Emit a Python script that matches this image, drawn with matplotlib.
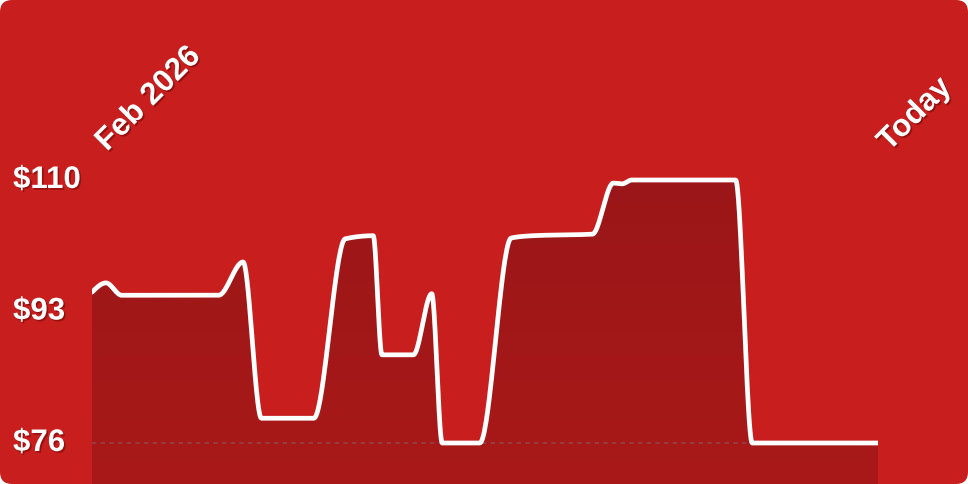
import numpy as np
import matplotlib
matplotlib.use("Agg")
import matplotlib.pyplot as plt
from matplotlib.patches import FancyBboxPatch, Polygon
import matplotlib.patheffects as pe
from matplotlib.transforms import blended_transform_factory, offset_copy

# price history, x in days since start of Feb 2026
days = [0, 1.6, 3.4, 14.5, 17.3, 19.4, 25.4, 29.0, 32.2, 33.2, 36.8, 38.9,
        40.1, 44.4, 48.0, 50.5, 57.3, 59.7, 60.7, 61.8, 73.7, 75.6, 90]
prices = [95.5, 96.7, 95.1, 95.1, 99.4, 79.2, 79.2, 102.4, 102.8, 87.4, 87.4, 95.3,
          76, 76, 102.5, 102.8, 103.0, 109.6, 109.5, 110, 110, 76, 76]
x_labels = ["Feb 2026", "Today"]
y_ticks = [110, 93, 76]

W, H = 968, 484
CARD = "#c81e1e"
FILL_TOP = "#9b1618"
FILL_BOT = "#a91919"


def monotone(x, y, n=40):
    # monotone cubic like d3.curveMonotoneX
    x = np.asarray(x, float)
    y = np.asarray(y, float)
    h = np.diff(x)
    s = np.diff(y) / h
    t = np.zeros(len(x))
    for i in range(1, len(x) - 1):
        h0, h1, s0, s1 = h[i - 1], h[i], s[i - 1], s[i]
        p = (s0 * h1 + s1 * h0) / (h0 + h1)
        t[i] = (np.sign(s0) + np.sign(s1)) * min(abs(s0), abs(s1), 0.5 * abs(p))
    t[0] = (3 * s[0] - t[1]) / 2
    t[-1] = (3 * s[-1] - t[-2]) / 2
    xs, ys = [], []
    for i in range(len(h)):
        u = np.linspace(0, 1, n, endpoint=False)
        h00 = 2 * u**3 - 3 * u**2 + 1
        h10 = u**3 - 2 * u**2 + u
        h01 = -2 * u**3 + 3 * u**2
        h11 = u**3 - u**2
        xs.append(x[i] + u * h[i])
        ys.append(h00 * y[i] + h10 * h[i] * t[i] + h01 * y[i + 1] + h11 * h[i] * t[i + 1])
    xs.append([x[-1]])
    ys.append([y[-1]])
    return np.concatenate(xs), np.concatenate(ys)


fig = plt.figure(figsize=(W / 100, H / 100), dpi=100)
fig.patch.set_facecolor("white")
card = FancyBboxPatch((0, 0), 1, 1, boxstyle="round,pad=0,rounding_size=0.0125",
                      transform=fig.transFigure, facecolor=CARD, edgecolor="none",
                      mutation_aspect=2, zorder=-10)
fig.add_artist(card)

ax = fig.add_axes([92 / W, 0, 786 / W, 1])
ax.set_facecolor("none")
ax.set_axis_off()

lo, hi = min(prices), max(prices)
f_hi, f_lo = 1 - 180 / H, 1 - 443 / H
span = (hi - lo) / (f_hi - f_lo)
ybot = lo - f_lo * span

xs, ys = monotone(days, prices)

# gradient fill under the line
poly = Polygon(np.column_stack([np.r_[xs, xs[-1], xs[0]], np.r_[ys, ybot, ybot]]),
               closed=True, facecolor="none", edgecolor="none")
ax.add_patch(poly)
grad = np.linspace(0, 1, 256).reshape(-1, 1)
cmap = matplotlib.colors.LinearSegmentedColormap.from_list("g", [FILL_TOP, FILL_BOT])
im = ax.imshow(grad, extent=[days[0], days[-1], ybot, hi], origin="upper",
               aspect="auto", cmap=cmap, interpolation="bicubic", zorder=1)
im.set_clip_path(poly)
ax.set_xlim(days[0], days[-1])
ax.set_ylim(ybot, ybot + span)

ax.axhline(lo, color="#934444", lw=1.2, ls=(0, (2.6, 2.6)), zorder=2)
ax.plot(xs, ys, color="white", lw=3.4, solid_capstyle="round",
        solid_joinstyle="round", zorder=3)

shadow = [pe.SimplePatchShadow(offset=(1.2, -1.2), shadow_rgbFace="#5a0000", alpha=0.45),
          pe.Normal()]
font = dict(family="Liberation Sans", fontsize=22.5, fontweight="bold", color="white")

tr = blended_transform_factory(fig.transFigure, ax.transData)
for v in y_ticks:
    ax.text(13 / W, v, f"${v}", transform=tr, ha="left", va="center",
            path_effects=shadow, **font)

tr2 = blended_transform_factory(ax.transData, fig.transFigure)
ax.text(days[0], 1 - 152 / H, x_labels[0], transform=offset_copy(tr2, fig, x=15, units="dots"),
        rotation=45, rotation_mode="anchor", ha="left", va="baseline",
        path_effects=shadow, **font)
ax.text(days[-1], 1 - 152 / H, x_labels[1], transform=offset_copy(tr2, fig, x=11, units="dots"),
        rotation=45, rotation_mode="anchor", ha="left", va="baseline",
        path_effects=shadow, **font)

fig.savefig("out.png", dpi=100, facecolor=fig.get_facecolor())
